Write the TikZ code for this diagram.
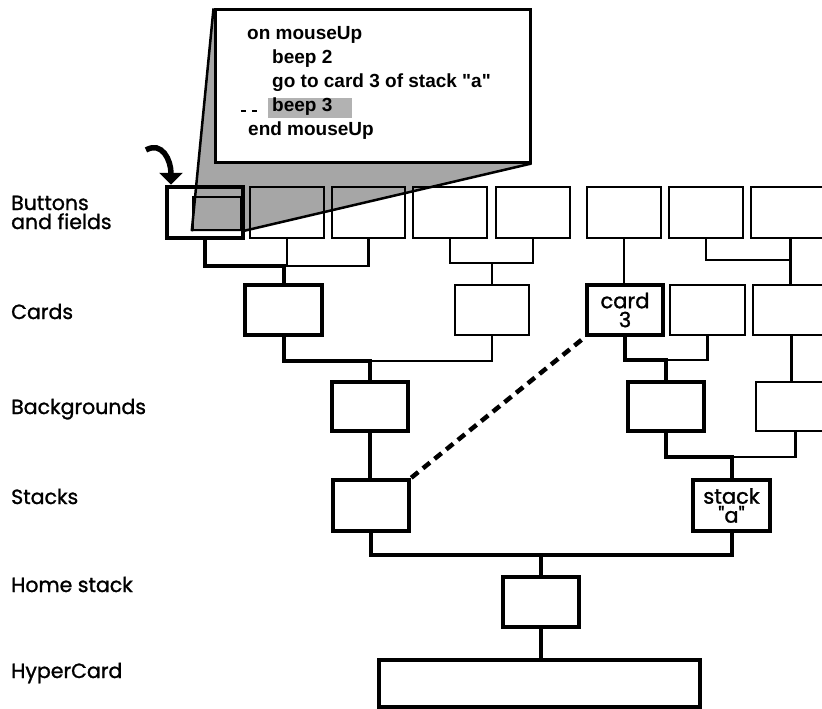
\documentclass[tikz,border=0pt]{standalone}
\usepackage{fontspec}
\newfontfamily\labfont{Poppins}[FakeBold=1.2]
\newfontfamily\codefont{Liberation Sans}
\usetikzlibrary{arrows.meta,backgrounds,calc}
\begin{document}
\begin{tikzpicture}[x=1pt,y=-1pt,
  bx/.style={draw, line width=2.6pt, minimum width=74pt, minimum height=50pt, inner sep=0pt},
  tb/.style={bx, line width=4.5pt},
  cn/.style={line width=2.3pt},
  tk/.style={line width=4pt},
  lab/.style={anchor=base west, font=\labfont\fontsize{20.5}{22}\selectfont, inner sep=0pt},
  code/.style={anchor=base west, font=\codefont\bfseries\fontsize{19}{22}\selectfont, inner sep=0pt},
  boxtxt/.style={font=\labfont\fontsize{21}{21}\selectfont, align=center},
  dsh/.style={line width=4.5pt, dash pattern=on 9pt off 6pt}]
\useasboundingbox (0,0) rectangle (822,709);

% labels
\node[lab] (lb1) at (11,210) {Buttons};
\node[lab] (lb2) at (11,229) {and fields};
\node[lab] (lc) at (11,319) {Cards};
\node[lab] (lbg) at (11,414) {Backgrounds};
\node[lab] (ls) at (11,504) {Stacks};
\node[lab] (lh) at (11,592) {Home stack};
\node[lab] (lhc) at (11,678) {HyperCard};

% bus levels
\coordinate (y1L) at (0,266);
\coordinate (y1M) at (0,263);
\coordinate (y1R) at (0,260);
\coordinate (y2L) at (0,361);
\coordinate (y2R) at (0,360);
\coordinate (y3R) at (0,457);
\coordinate (y4) at (0,555);

% callout
\node[draw, fill=white, line width=3pt, minimum width=315pt, minimum height=152pt, inner sep=0pt] (callout) at (372.5,86) {};
\node[fill=black!30, minimum width=84pt, minimum height=20pt, inner sep=0pt] (hl) at (310,108) {};
\node[code] (l1) at (247,40) {on mouseUp};
\node[code] (l2) at (272,63.75) {beep 2};
\node[code] (l3) at (272,87.5) {go to card 3 of stack "a"};
\node[code] (l4) at (272,111.25) {beep 3};
\node[code] (l5) at (248,135) {end mouseUp};
\draw[line width=1.3pt, dash pattern=on 5pt off 6pt] ($(hl.west)+(-27,3)$) -- ($(hl.west)+(-11,3)$);

% row 1: buttons and fields
\node[tb, minimum width=76pt, minimum height=51pt] (B1) at (205,212.5) {};
\node[bx, minimum height=51pt] (B2) at (287,212.5) {};
\node[bx, minimum width=73pt, minimum height=51pt] (B3) at (368.5,212.5) {};
\node[bx, minimum height=51pt] (B4) at (450,212.5) {};
\node[bx, minimum height=51pt] (B5) at (533,212.5) {};
\node[bx, minimum height=51pt] (B6) at (624,212.5) {};
\node[bx, minimum height=51pt] (B7) at (706,212.5) {};
\node[bx, minimum width=79pt, minimum height=51pt] (B8) at (790.5,212.5) {};

% zoom source and shading
\node[draw, line width=2.5pt, minimum width=48pt, minimum height=33pt, inner sep=0pt] (zsrc) at (217,213.5) {};
\begin{scope}[on background layer]
\fill[black!35] (callout.north west) -- (zsrc.south west) -- (zsrc.south east) -- (callout.south east) -- (callout.north east) -- cycle;
\end{scope}
\draw[line width=2.5pt] (zsrc.south west) -- (callout.north west);
\draw[line width=2.5pt] (zsrc.south east) -- (callout.south east);

% pointer arrow
\coordinate (arS) at (146,150);
\draw[line width=5.5pt, -{Triangle[length=12pt,width=23pt]}] (arS) .. controls (162,141) and (171,160) .. (B1.north west -| 171,0);

% row 2: cards
\node[tb, minimum width=77pt] (C1) at (283.5,310) {};
\node[bx] (C2) at (492,310) {};
\node[tb, minimum width=76pt, boxtxt] (card3) at (625,310) {card\\[-2pt]3};
\node[bx, minimum width=75pt] (C3) at (707.5,310) {};
\node[bx, minimum width=77pt] (C4) at (791.5,310) {};

% row 3: backgrounds
\node[tb, minimum width=76pt, minimum height=49pt] (BG1) at (370,406.5) {};
\node[tb, minimum width=76pt, minimum height=49pt] (BG2) at (666,406.5) {};
\node[bx, minimum width=79pt, minimum height=49pt] (BG3) at (795.5,406.5) {};

% row 4: stacks
\node[tb, minimum width=76pt, minimum height=51pt] (S1) at (371,505.5) {};
\node[tb, minimum width=77pt, minimum height=51pt, boxtxt] (Sa) at (731.5,505.5) {stack\\[-2pt]"a"};

% home and hypercard
\node[tb, minimum width=76pt] (Home) at (541,602) {};
\node[tb, minimum width=321pt, minimum height=47pt] (HC) at (539.5,683.5) {};

% connectors row1 -> row2
\draw[tk] (B1.south) |- (y1L -| C1.north) -- (C1.north);
\draw[cn] (B2.south) -- (B2.south |- y1L);
\draw[cn] (y1L -| C1.north) -| (B3.south);
\draw[cn] (B4.south) |- (y1M -| B5.south) -- (B5.south);
\draw[cn] (C2.north) -- (C2.north |- y1M);
\draw[cn] (B6.south) -- (B6.south |- card3.north);
\draw[cn] (B7.south) |- (y1R -| B8.south);
\draw[cn] (B8.south) -- (B8.south |- C4.north);

% row2 -> row3
\draw[tk] (C1.south) |- (y2L -| BG1.north) -- (BG1.north);
\draw[cn] (y2L -| BG1.north) -| (C2.south);
\draw[tk] (card3.south) |- (y2R -| BG2.north) -- (BG2.north);
\draw[cn] (y2R -| BG2.north) -| (C3.south);
\draw[cn] (C4.south) -- (C4.south |- BG3.north);

% row3 -> row4
\draw[tk] (BG1.south) -- (BG1.south |- S1.north);
\draw[tk] (BG2.south) |- (y3R -| Sa.north) -- (Sa.north);
\draw[cn] (y3R -| Sa.north) -| (BG3.south);

% row4 -> home -> hypercard
\draw[tk] (S1.south) |- (y4 -| Home.north) -- (Home.north);
\draw[tk] (Sa.south) |- (y4 -| Home.north);
\draw[tk] (Home.south) -- (Home.south |- HC.north);

% dashed link
\draw[dsh] (S1.north east) -- (card3.south west);
\end{tikzpicture}
\end{document}
